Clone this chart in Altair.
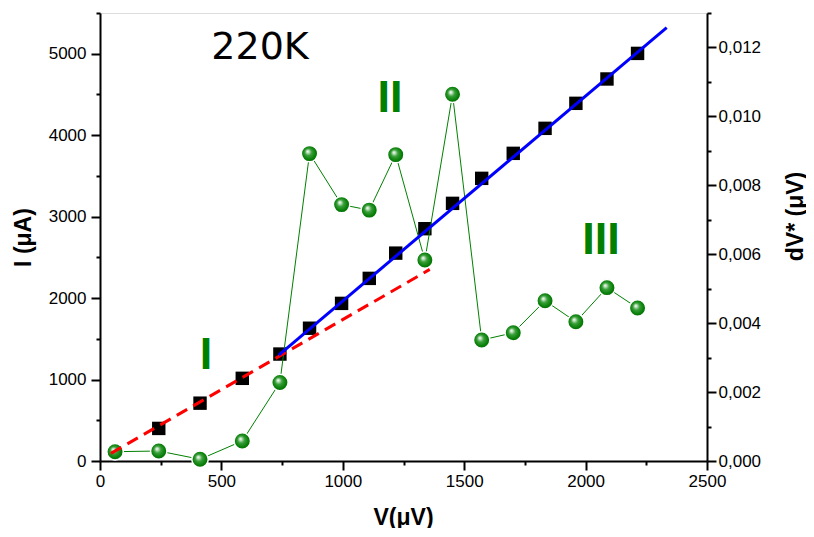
import altair as alt
import pandas as pd

# ---- data ----
v_all = [62, 242, 412, 586, 741, 863, 995, 1109, 1218, 1338, 1452, 1572, 1702, 1833, 1960, 2088, 2214]
i_sq = [400, 710, 1015, 1313, 1630, 1935, 2242, 2552, 2852, 3163, 3470, 3777, 4084, 4391, 4690, 5004]
dv_star = [0.00027, 0.00029, 0.00005, 0.00058, 0.00228, 0.00892, 0.00744, 0.00728, 0.00889,
           0.00583, 0.01064, 0.00351, 0.00372, 0.00465, 0.00404, 0.00503, 0.00444]

red_v = [45, 1358]
red_i = [94, 2352]
blue_v = [736, 2334]
blue_i = [1301, 5321]

title_text = ["220K"]
title_v = [659]
title_i = [5067]
region_text = ["I", "II", "III"]
region_v = [437, 1194, 2063]
region_i = [1301, 4454, 2712]

x_major = [0, 500, 1000, 1500, 2000, 2500]
x_minor = [250, 750, 1250, 1750, 2250]
yl_major = [0, 1000, 2000, 3000, 4000, 5000]
yl_minor = [500, 1500, 2500, 3500, 4500, 5500]
yr_major = [0.0, 0.002, 0.004, 0.006, 0.008, 0.010, 0.012]
yr_minor = [0.001, 0.003, 0.005, 0.007, 0.009, 0.011, 0.013]

# ---- tables ----
sq_df = pd.DataFrame({"V": v_all[1:], "I": i_sq})
dv_df = pd.DataFrame({"V": v_all, "dV": dv_star})
red_df = pd.DataFrame({"V": red_v, "I": red_i})
blue_df = pd.DataFrame({"V": blue_v, "I": blue_i})
t1_df = pd.DataFrame({"V": title_v, "I": title_i, "t": title_text})
t2_df = pd.DataFrame({"V": region_v, "I": region_i, "t": region_text})

FONT = "Liberation Sans"
GREEN = "#008000"

x_scale = alt.Scale(domain=[0, 2500], nice=False)
yl_scale = alt.Scale(domain=[0, 5500], nice=False)
yr_scale = alt.Scale(domain=[0, 0.013], nice=False)

common = dict(grid=False, domainColor="black", domainWidth=2, tickColor="black", tickWidth=2,
              labelFont=FONT, labelFontSize=17, labelColor="black", labelOverlap=False, labelFlush=False,
              titleFont=FONT, titleFontSize=23, titleFontWeight="bold", titleColor="black")

x_axis = alt.Axis(
    title="V(μV)", orient="bottom", values=x_major, format="d", tickSize=9, labelPadding=3,
    titleX=303, titleY=56, titleBaseline="middle", titleAlign="center", **common,
)
x_axis_minor = alt.Axis(title=None, orient="bottom", values=x_minor, tickSize=4, labels=False,
                        domain=False, grid=False, tickColor="black", tickWidth=2)

yl_axis = alt.Axis(
    title="I (μA)", orient="left", values=yl_major, format="d", tickSize=9, labelPadding=5,
    titleAngle=270, titleX=-77, titleY=224, titleBaseline="middle", titleAlign="center", **common,
)
yl_axis_minor = alt.Axis(title=None, orient="left", values=yl_minor, tickSize=4, labels=False,
                         domain=False, grid=False, tickColor="black", tickWidth=2)

yr_axis = alt.Axis(
    title="dV* (μV)", orient="right", values=yr_major, tickSize=9, labelPadding=2,
    labelExpr="replace(format(datum.value, '.3f'), '.', ',')",
    titleAngle=270, titleX=88, titleY=203, titleBaseline="middle", titleAlign="center", **common,
)
yr_axis_minor = alt.Axis(title=None, orient="right", values=yr_minor, tickSize=4, labels=False,
                         domain=False, grid=False, tickColor="black", tickWidth=2)

X_NO = alt.X("V:Q", scale=x_scale, axis=None)

# invisible carrier layers for minor ticks
minor_left = alt.Chart(sq_df).mark_point(opacity=0).encode(
    x=alt.X("V:Q", scale=x_scale, axis=x_axis_minor),
    y=alt.Y("I:Q", scale=yl_scale, axis=yl_axis_minor),
)
minor_right = alt.Chart(dv_df).mark_point(opacity=0).encode(
    x=X_NO, y=alt.Y("dV:Q", scale=yr_scale, axis=yr_axis_minor),
)

squares = alt.Chart(sq_df).mark_square(size=180, color="black", filled=True, opacity=1).encode(
    x=alt.X("V:Q", scale=x_scale, axis=x_axis),
    y=alt.Y("I:Q", scale=yl_scale, axis=yl_axis),
)

green_line = alt.Chart(dv_df).mark_line(color=GREEN, strokeWidth=1).encode(
    x=X_NO, y=alt.Y("dV:Q", scale=yr_scale, axis=yr_axis)
)

sphere_fill = alt.RadialGradient(
    gradient="radial",
    stops=[
        alt.GradientStop(color="#ffffff", offset=0),
        alt.GradientStop(color="#cfe9cf", offset=0.12),
        alt.GradientStop(color="#3a9f3a", offset=0.38),
        alt.GradientStop(color="#0b820b", offset=0.7),
        alt.GradientStop(color="#006400", offset=1),
    ],
    x1=0.38, y1=0.36, r1=0, x2=0.5, y2=0.5, r2=0.55,
)
spheres = alt.Chart(dv_df).mark_point(
    shape="circle", size=270, filled=True, fill=sphere_fill, stroke="white", strokeWidth=1.5, opacity=1
).encode(
    x=X_NO, y=alt.Y("dV:Q", scale=yr_scale, axis=None)
)

red_line = alt.Chart(red_df).mark_line(color="#ff0000", strokeWidth=3, strokeDash=[12, 7]).encode(
    x=X_NO, y=alt.Y("I:Q", scale=yl_scale, axis=None)
)
blue_line = alt.Chart(blue_df).mark_line(color="#0000ff", strokeWidth=3).encode(
    x=X_NO, y=alt.Y("I:Q", scale=yl_scale, axis=None)
)

temp_text = alt.Chart(t1_df).mark_text(font="DejaVu Sans", fontSize=38, color="black").encode(
    x=X_NO, y=alt.Y("I:Q", scale=yl_scale, axis=None), text="t:N"
)
region_labels = alt.Chart(t2_df).mark_text(font=FONT, fontSize=45, fontWeight="bold", color=GREEN).encode(
    x=X_NO, y=alt.Y("I:Q", scale=yl_scale, axis=None), text="t:N"
)

chart = alt.layer(
    minor_left, minor_right, squares, green_line, spheres, red_line, blue_line, temp_text, region_labels
).resolve_scale(y="independent", x="shared").resolve_axis(x="independent", y="independent").properties(
    width=607, height=448,
    autosize=alt.AutoSizeParams(type="none"),
    padding={"left": 92, "top": 5, "right": 99, "bottom": 67},
).configure_view(stroke=None).configure(background="white")

chart.save("out.html", embed_options={"renderer": "svg", "actions": False})
